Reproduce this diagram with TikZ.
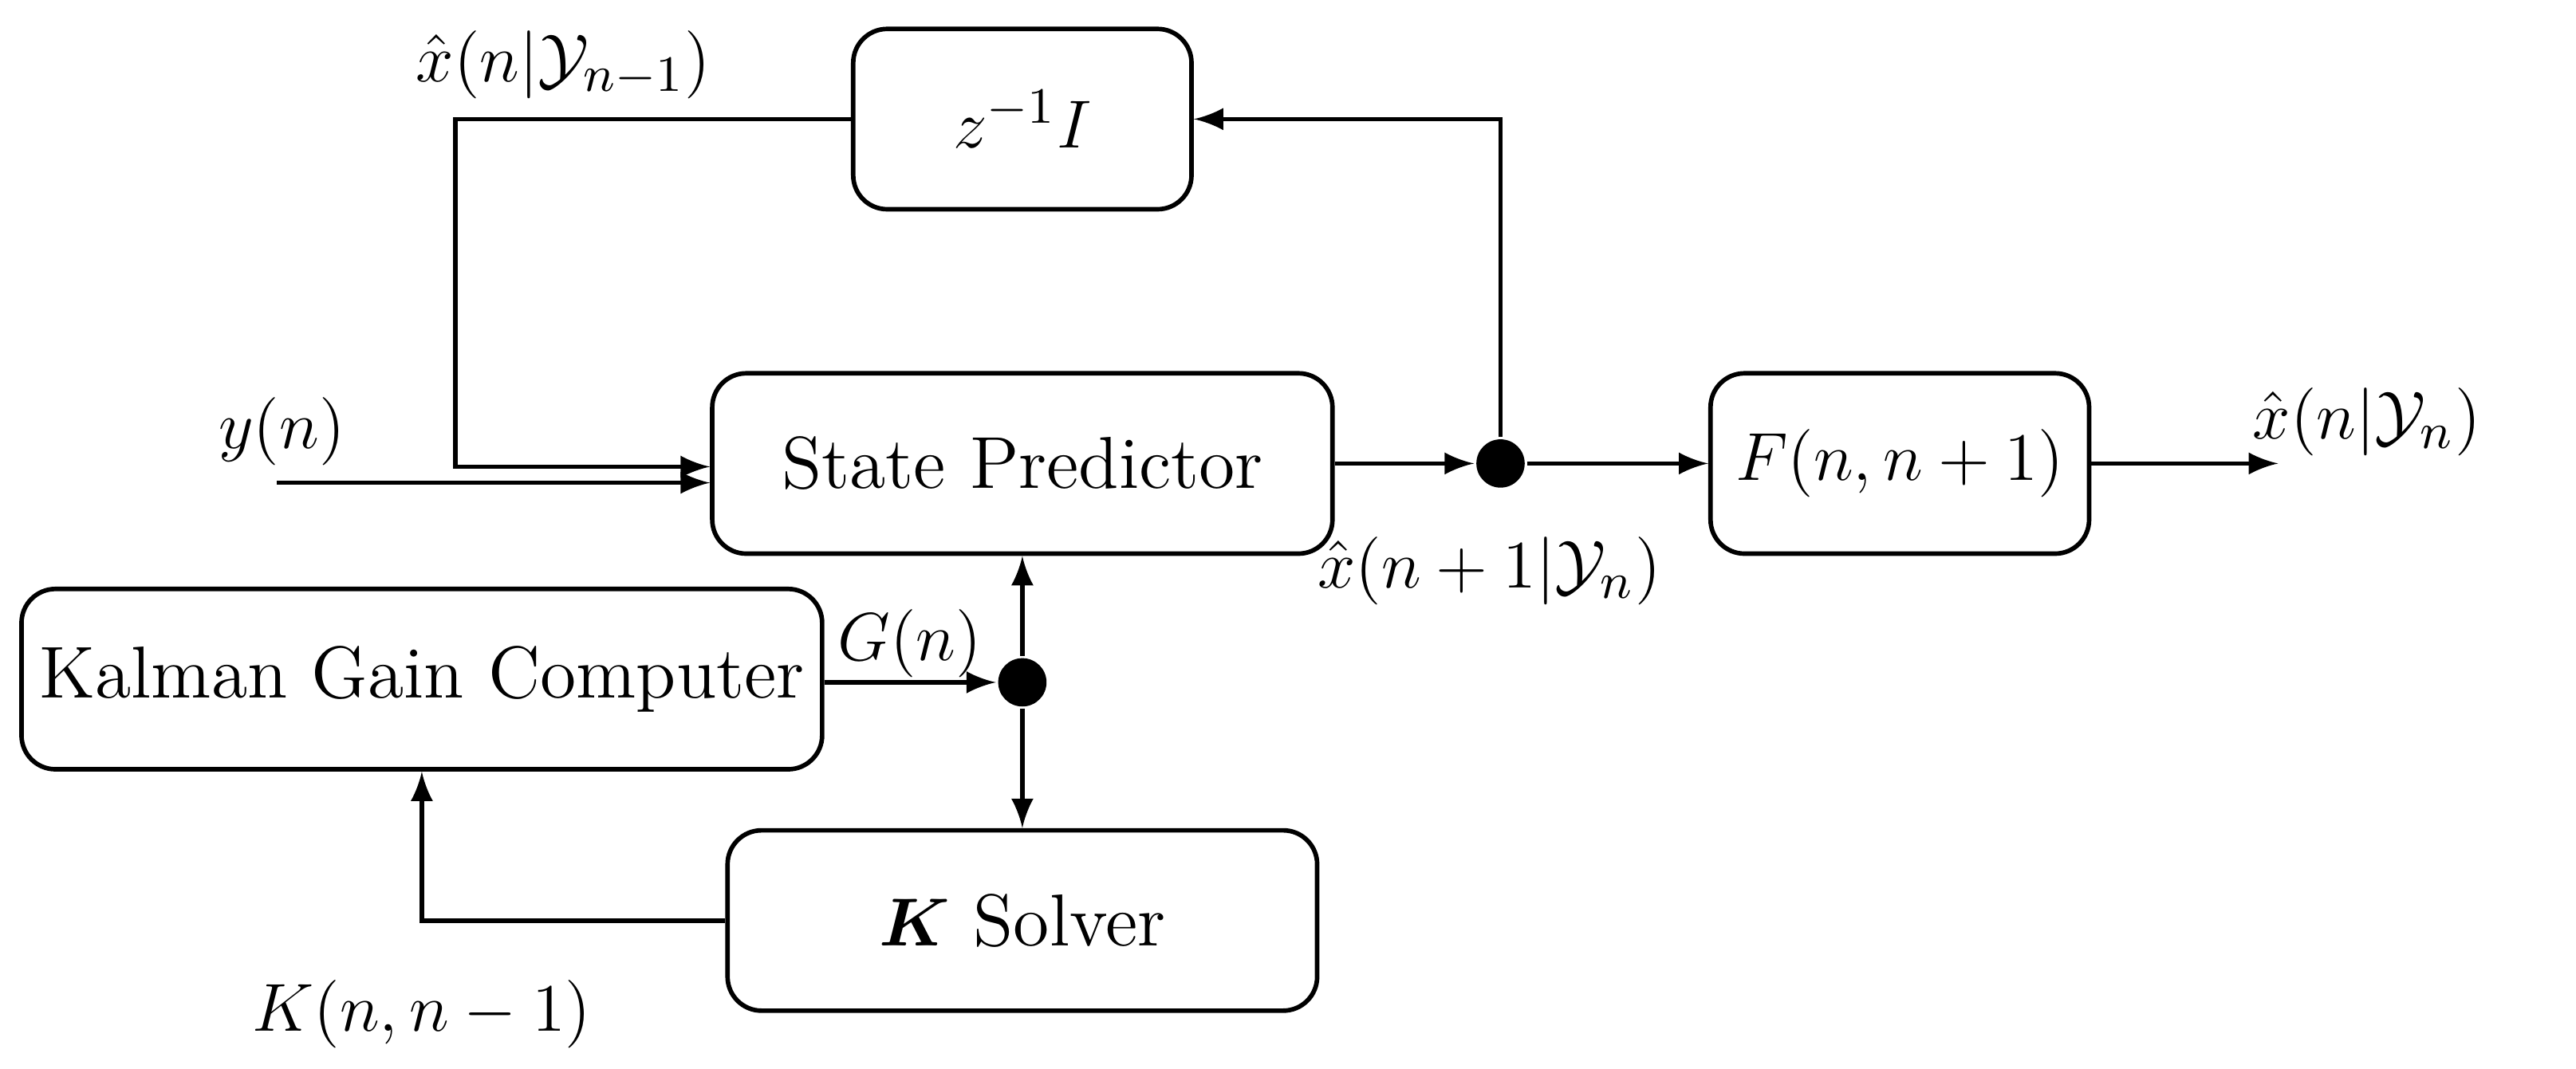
\documentclass[tikz,border=0pt]{standalone}
\usepackage{amsmath}
\usepackage{amssymb}
\usepackage{bm}
\usepackage{tikz}
\usetikzlibrary{positioning, arrows}

\begin{document}
\fontsize{13}{15}\selectfont
\begin{tikzpicture}[x=0.01cm, y=-0.01cm, line width=0.8pt,
        blk/.style={draw, rounded corners=6pt, minimum height=1.12cm, inner sep=0pt},
        dot/.style={circle, fill=black, minimum size=0.3cm, inner sep=0pt},
        >=latex]
        \useasboundingbox (0,0) rectangle (1600,664);

        \node[blk, minimum width=2.1cm]  (delay) at (635,74)  {$z^{-1}I$};
        \node[blk, minimum width=3.85cm] (pred)  at (635,288) {State Predictor};
        \node[blk, minimum width=2.35cm] (trans) at (1180,288) {$F(n,n+1)$};
        \node[blk, minimum width=4.97cm] (gain)  at (262,422) {Kalman Gain Computer};
        \node[blk, minimum width=3.66cm] (solv)  at (635,572) {$\bm{K}$ Solver};

        \node[dot] (d1) at (932,288) {};
        \node[dot] (d2) at (635,424) {};

        \coordinate (in)  at (172,300);
        \coordinate (out) at (1415,288);

        \draw[->] (in) -- (in -| pred.west);
        \draw[->] (delay.west) -- (283,74) -- (283,290) -- (pred.west |- 0,290);
        \draw[->] (pred.east) -- (d1);
        \draw[->] (d1) -- (trans.west);
        \draw[->] (d1) |- (delay.east);
        \draw[->] (trans.east) -- (out);
        \draw[->] (gain.east |- d2) -- (d2);
        \draw[->] (d2) -- (pred.south);
        \draw[->] (d2) -- (solv.north);
        \draw[->] (solv.west) -| (gain.south);

        \node at (350,40)  {$\hat{x}(n|\mathcal{Y}_{n-1})$};
        \node at (175,268) {$y(n)$};
        \node at (925,355) {$\hat{x}(n+1|\mathcal{Y}_{n})$};
        \node at (1470,262) {$\hat{x}(n|\mathcal{Y}_{n})$};
        \node at (565,400) {$G(n)$};
        \node at (262,630) {$K(n,n-1)$};
\end{tikzpicture}
\end{document}
